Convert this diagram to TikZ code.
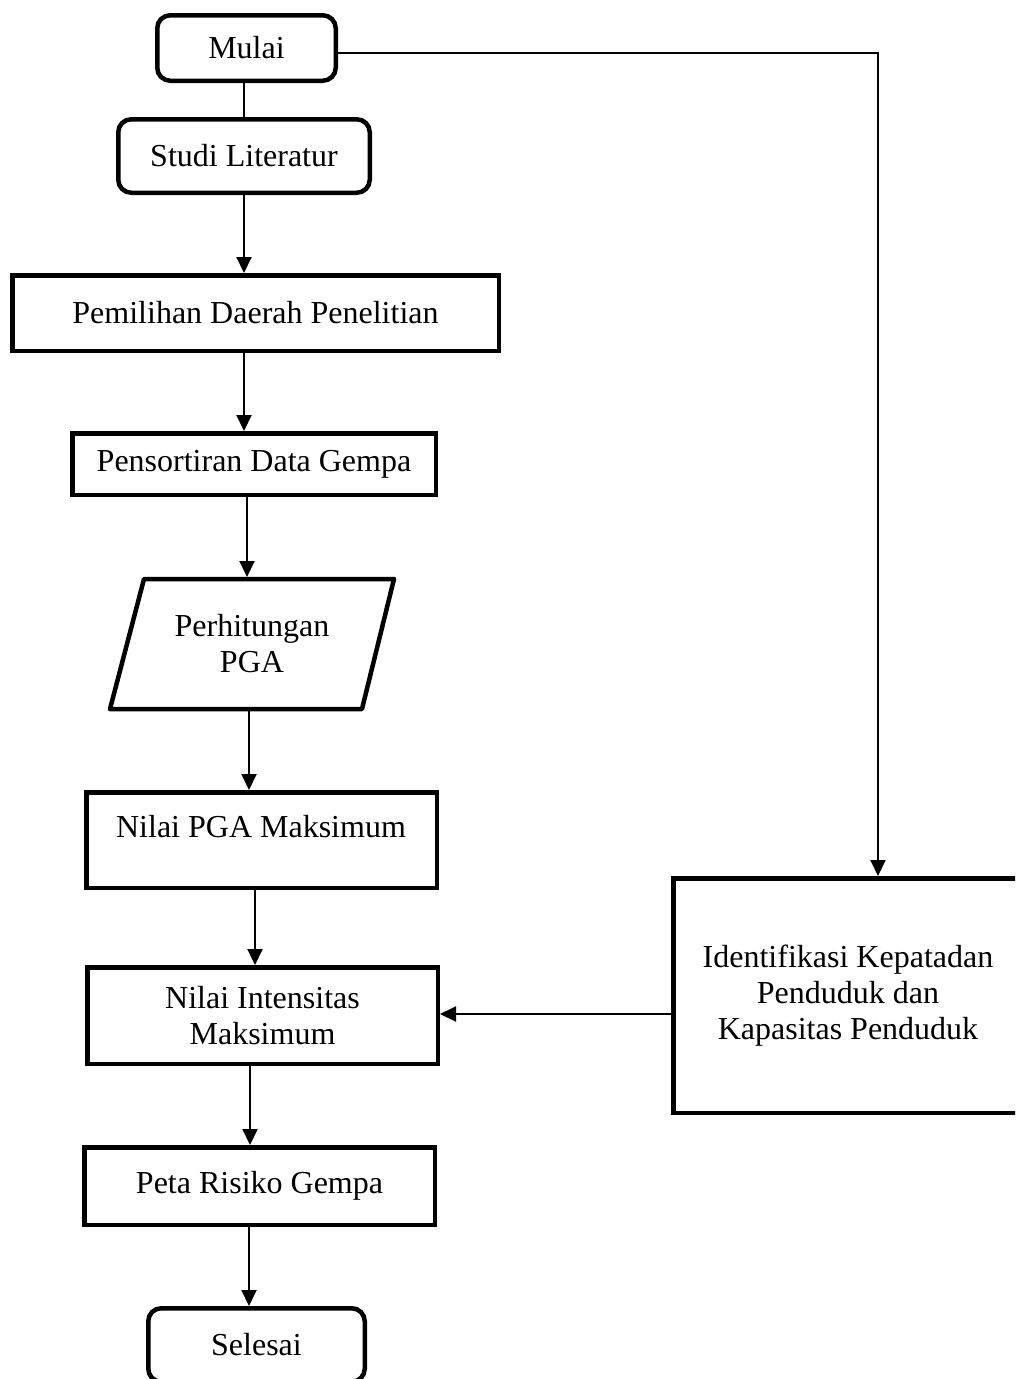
\documentclass[tikz,border=0pt]{standalone}
\usepackage{fontspec}
\setmainfont{Liberation Serif}
\usetikzlibrary{arrows.meta,calc}
\begin{document}
\begin{tikzpicture}[x=1pt,y=-1pt,
  every node/.style={font=\fontsize{32}{36}\selectfont, align=center, inner sep=0pt},
  boxnode/.style={draw, line width=4.5pt, rectangle},
  roundbox/.style={boxnode, rounded corners=13pt},
  conn/.style={line width=2pt},
  arr/.style={conn, -{Triangle[length=16pt,width=15pt]}},
  txt/.style={}]
\useasboundingbox (0,0) rectangle (1015,1379);
\clip (0,0) rectangle (1015,1379);

% nodes
\node[roundbox, minimum width=178.5pt, minimum height=65.5pt] (mulai) at (246.5,48) {Mulai};
\node[roundbox, minimum width=251.5pt, minimum height=73.5pt] (studi) at (244,156) {Studi Literatur};
\node[boxnode, minimum width=486.5pt, minimum height=75.5pt] (pem) at (255.5,313) {Pemilihan Daerah Penelitian};
\node[boxnode, minimum width=363.5pt, minimum height=61.5pt] (pens) at (254,464) {Pensortiran Data Gempa};

% parallelogram
\coordinate (pTL) at (144,579);
\coordinate (pTR) at (394,579);
\coordinate (pBR) at (362,709);
\coordinate (pBL) at (110,709);
\draw[line width=4.5pt, line join=round] (pTL) -- (pTR) -- (pBR) -- (pBL) -- cycle;
\node[txt] (hit) at (252,644) {Perhitungan\\PGA};
\coordinate (ptop) at (247,577);
\coordinate (pbot) at (249,711);

\node[boxnode, minimum width=350.5pt, minimum height=95.5pt] (pga) at (261.5,840) {};
\node[txt] (pgat) at (261,827) {Nilai PGA Maksimum};
\node[boxnode, minimum width=350.5pt, minimum height=96.5pt] (int) at (262.5,1015.5) {Nilai Intensitas\\Maksimum};
\node[boxnode, minimum width=349.5pt, minimum height=234.5pt] (ident) at (848,995.5) {Identifikasi Kepatadan\\Penduduk dan\\Kapasitas Penduduk};
\node[boxnode, minimum width=350.5pt, minimum height=77.5pt] (peta) at (259.5,1186) {Peta Risiko Gempa};
\node[roundbox, minimum width=216.5pt, minimum height=73.5pt] (selesai) at (256.5,1345) {Selesai};

% connectors
\draw[conn] (studi.north) -- (studi.north |- mulai.south);
\draw[arr] (studi.south) -- (studi.south |- pem.north);
\draw[arr] ([xshift=-11.5pt]pem.south) -- ([xshift=-11.5pt]pem.south |- pens.north);
\draw[arr] ([xshift=-7pt]pens.south) -- (ptop);
\draw[arr] (pbot) -- (pbot |- pga.north);
\draw[arr] ([xshift=-6.5pt]pga.south) -- ([xshift=-6.5pt]pga.south |- int.north);
\draw[arr] ([xshift=-12.5pt]int.south) -- ([xshift=-12.5pt]int.south |- peta.north);
\draw[arr] ([xshift=-10.5pt]peta.south) -- ([xshift=-10.5pt]peta.south |- selesai.north);
\draw[arr] ([yshift=-5pt]mulai.east) -| ([xshift=30pt]ident.north);
\draw[arr] ([yshift=-18.5pt]ident.west) -- ([yshift=-18.5pt]ident.west -| int.east);
\end{tikzpicture}
\end{document}
